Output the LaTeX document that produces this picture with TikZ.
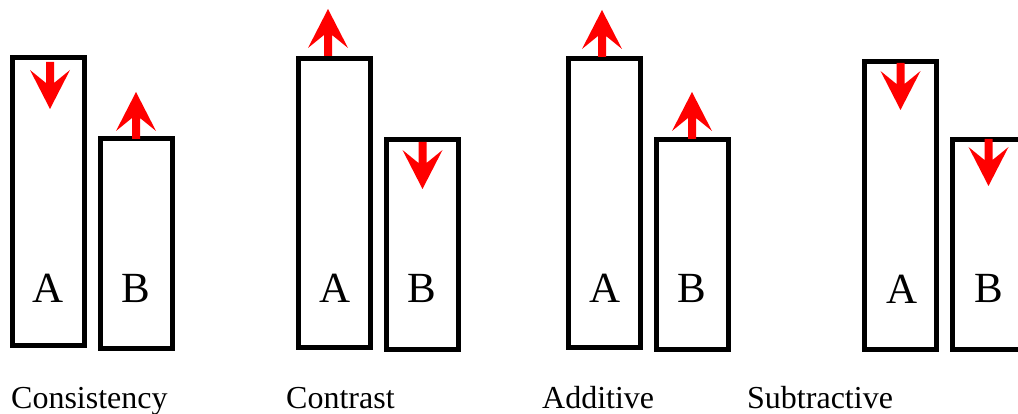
\documentclass[tikz,border=0pt]{standalone}
\usepackage{fontspec}
\setmainfont{Liberation Serif}
\begin{document}
\begin{tikzpicture}[x=1pt,y=-1pt,
  bar/.style={draw=black,line width=5pt,fill=white,inner sep=0pt,minimum width=72pt},
  tall/.style={bar,minimum height=288pt},
  short/.style={bar,minimum height=209pt},
  letter/.style={anchor=base,inner sep=0pt,font=\fontsize{43}{43}\selectfont},
  caption/.style={anchor=base west,inner sep=0pt,font=\fontsize{32}{32}\selectfont},
  pointer/.pic={\fill[red] (-4,0) -- (4,0) -- (4,21) -- (20,8) -- (0,47) -- (-20,8) -- (-4,21) -- cycle;}
]
\useasboundingbox (0,0) rectangle (1018,414);
\clip (0,0) rectangle (1018,414);

% Consistency
\node[tall]  (c1a) at (48,201.5) {};
\node[short] (c1b) at (136,243.5) {};
\node[letter] at (48,302) {A};
\node[letter] at (136,302) {B};
\pic at (50,62) {pointer};
\pic[rotate=180] at (136,139) {pointer};
\node[caption] (cap1) at (11,408) {Consistency};

% Contrast
\node[tall]  (c2a) at (334,203) {};
\node[short] (c2b) at (422.5,244.5) {};
\node[letter] at (335,302) {A};
\node[letter] at (422,302) {B};
\pic[rotate=180] at (328,56) {pointer};
\pic at (422.5,142) {pointer};
\node[caption] (cap2) at (286,408) {Contrast};

% Additive
\node[tall]  (c3a) at (604,203) {};
\node[short] (c3b) at (692.5,244.5) {};
\node[letter] at (605,302) {A};
\node[letter] at (692,302) {B};
\pic[rotate=180] at (602,57) {pointer};
\pic[rotate=180] at (692,139) {pointer};
\node[caption] (cap3) at (542,408) {Additive};

% Subtractive
\node[tall]  (c4a) at (900.5,205.5) {};
\node[short] (c4b) at (988.5,244.5) {};
\node[letter] at (902,303) {A};
\node[letter] at (988.5,302) {B};
\pic at (900.5,63) {pointer};
\pic at (988.5,139) {pointer};
\node[caption] (cap4) at (747,408) {Subtractive};
\end{tikzpicture}
\end{document}
